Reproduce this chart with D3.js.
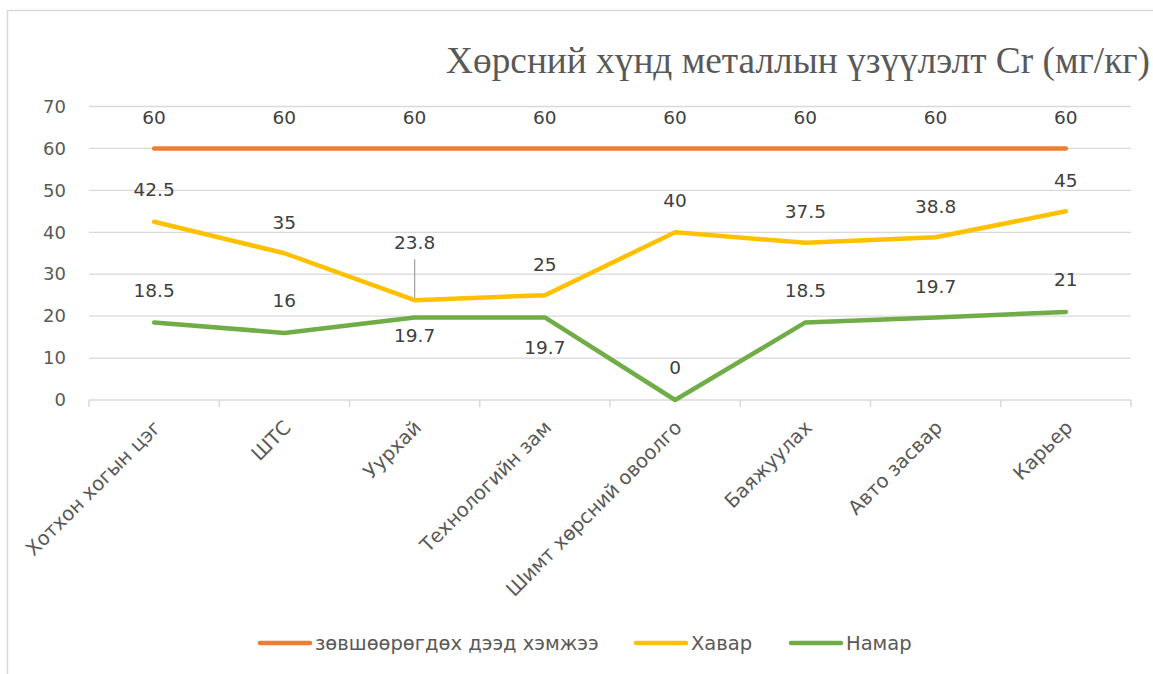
<!DOCTYPE html>
<html>
<head>
<meta charset="utf-8">
<script src="https://cdn.jsdelivr.net/npm/d3@7"></script>
<style>
  body { margin: 0; background: #fff; }
  text { font-family: "DejaVu Sans", "Noto Sans", sans-serif; }
</style>
</head>
<body>
<div id="chart"></div>
<script>
// カテゴリと系列データ
const categories = ['Хотхон хогын цэг', 'ШТС', 'Уурхай', 'Технологийн зам',
    'Шимт хөрсний овоолго', 'Баяжуулах', 'Авто засвар', 'Карьер'];
const limitValues = [60, 60, 60, 60, 60, 60, 60, 60];
const springValues = [42.5, 35, 23.8, 25, 40, 37.5, 38.8, 45];
const autumnValues = [18.5, 16, 19.7, 19.7, 0, 18.5, 19.7, 21];
const yTicks = [0, 10, 20, 30, 40, 50, 60, 70];
const titleText = 'Хөрсний хүнд металлын үзүүлэлт Cr (мг/кг)';

const W = 1153, H = 674;
const plot = { left: 89, right: 1131, top: 106.5, bottom: 400 };

const svg = d3.select('#chart').append('svg')
    .attr('width', W).attr('height', H);

// 枠線
svg.append('rect')
    .attr('x', 7.5).attr('y', 10.5)
    .attr('width', W + 20).attr('height', H + 20)
    .attr('fill', 'none').attr('stroke', '#d9d9d9').attr('stroke-width', 1.5);

// タイトル
svg.append('text')
    .attr('x', 1150).attr('y', 73)
    .attr('text-anchor', 'end')
    .attr('fill', '#595959')
    .style('font-family', '"Liberation Serif", "DejaVu Serif", serif')
    .style('font-size', '37.3px')
    .text(titleText);

const x = d3.scaleBand().domain(categories).range([plot.left, plot.right]);
const y = d3.scaleLinear().domain([0, 70]).range([plot.bottom, plot.top]);
const cx = d => x(d) + x.bandwidth() / 2;

// グリッド線
svg.append('g').selectAll('line')
    .data(yTicks.filter(t => t > 0))
    .join('line')
    .attr('x1', plot.left).attr('x2', plot.right)
    .attr('y1', d => y(d)).attr('y2', d => y(d))
    .attr('stroke', '#d9d9d9').attr('stroke-width', 1.3);

// Y軸
const yAxis = svg.append('g')
    .attr('transform', `translate(${plot.left},0)`)
    .call(d3.axisLeft(y).tickValues(yTicks).tickSize(0).tickPadding(23));
yAxis.select('.domain').remove();
yAxis.selectAll('text')
    .attr('fill', '#595959')
    .style('font-family', '"DejaVu Sans", sans-serif')
    .style('font-size', '18px');

// X軸
const xAxis = svg.append('g')
    .attr('transform', `translate(0,${plot.bottom})`);
xAxis.append('line')
    .attr('x1', plot.left).attr('x2', plot.right)
    .attr('stroke', '#d9d9d9').attr('stroke-width', 1.5);
const edges = d3.range(categories.length + 1).map(i => plot.left + i * x.step());
xAxis.selectAll('.tick')
    .data(edges)
    .join('line')
    .attr('x1', d => d).attr('x2', d => d)
    .attr('y1', 0).attr('y2', 7)
    .attr('stroke', '#d9d9d9').attr('stroke-width', 1.5);
xAxis.selectAll('.cat')
    .data(categories)
    .join('text')
    .attr('class', 'cat')
    .attr('transform', d => `translate(${cx(d) + 3},${24}) rotate(-45)`)
    .attr('text-anchor', 'end')
    .attr('dy', '0.35em')
    .attr('fill', '#595959')
    .style('font-size', '19.5px')
    .text(d => d);

// 系列
const series = [
    { name: 'зөвшөөрөгдөх дээд хэмжээ', values: limitValues, color: '#ED7D31' },
    { name: 'Хавар', values: springValues, color: '#FFC000' },
    { name: 'Намар', values: autumnValues, color: '#70AD47' }
];

const line = d3.line()
    .x((d, i) => cx(categories[i]))
    .y(d => y(d));

series.forEach(s => {
    svg.append('path')
        .datum(s.values)
        .attr('d', line)
        .attr('fill', 'none')
        .attr('stroke', s.color)
        .attr('stroke-width', 4.5)
        .attr('stroke-linecap', 'round')
        .attr('stroke-linejoin', 'round');
});

// データラベル（ピクセルオフセット：上はマイナス）
const labelOffsets = [
    [-31, -31, -31, -31, -31, -31, -31, -31],
    [-32, -31, -58, -31, -32, -31, -31, -31],
    [-32, -32, 18, 30, -32, -32, -31, -32]
];

series.forEach((s, si) => {
    svg.append('g').selectAll('text')
        .data(s.values)
        .join('text')
        .attr('x', (d, i) => cx(categories[i]))
        .attr('y', (d, i) => y(d) + labelOffsets[si][i])
        .attr('dy', '0.35em')
        .attr('text-anchor', 'middle')
        .attr('fill', '#404040')
        .style('font-size', '18.5px')
        .text(d => d);
});

// 引き出し線（23.8）
svg.append('line')
    .attr('x1', cx(categories[2])).attr('x2', cx(categories[2]))
    .attr('y1', y(springValues[2]) - 41).attr('y2', y(springValues[2]) - 2)
    .attr('stroke', '#a6a6a6').attr('stroke-width', 1.3);

// 凡例
const legendX = [258, 634, 789];
const legend = svg.append('g');
series.forEach((s, i) => {
    const g = legend.append('g').attr('transform', `translate(${legendX[i]},643)`);
    g.append('line')
        .attr('x1', 2).attr('x2', 52)
        .attr('stroke', s.color)
        .attr('stroke-width', 4.5)
        .attr('stroke-linecap', 'round');
    g.append('text')
        .attr('x', 57).attr('dy', '0.35em')
        .attr('fill', '#595959')
        .style('font-size', '19.5px')
        .text(s.name);
});
</script>
</body>
</html>
